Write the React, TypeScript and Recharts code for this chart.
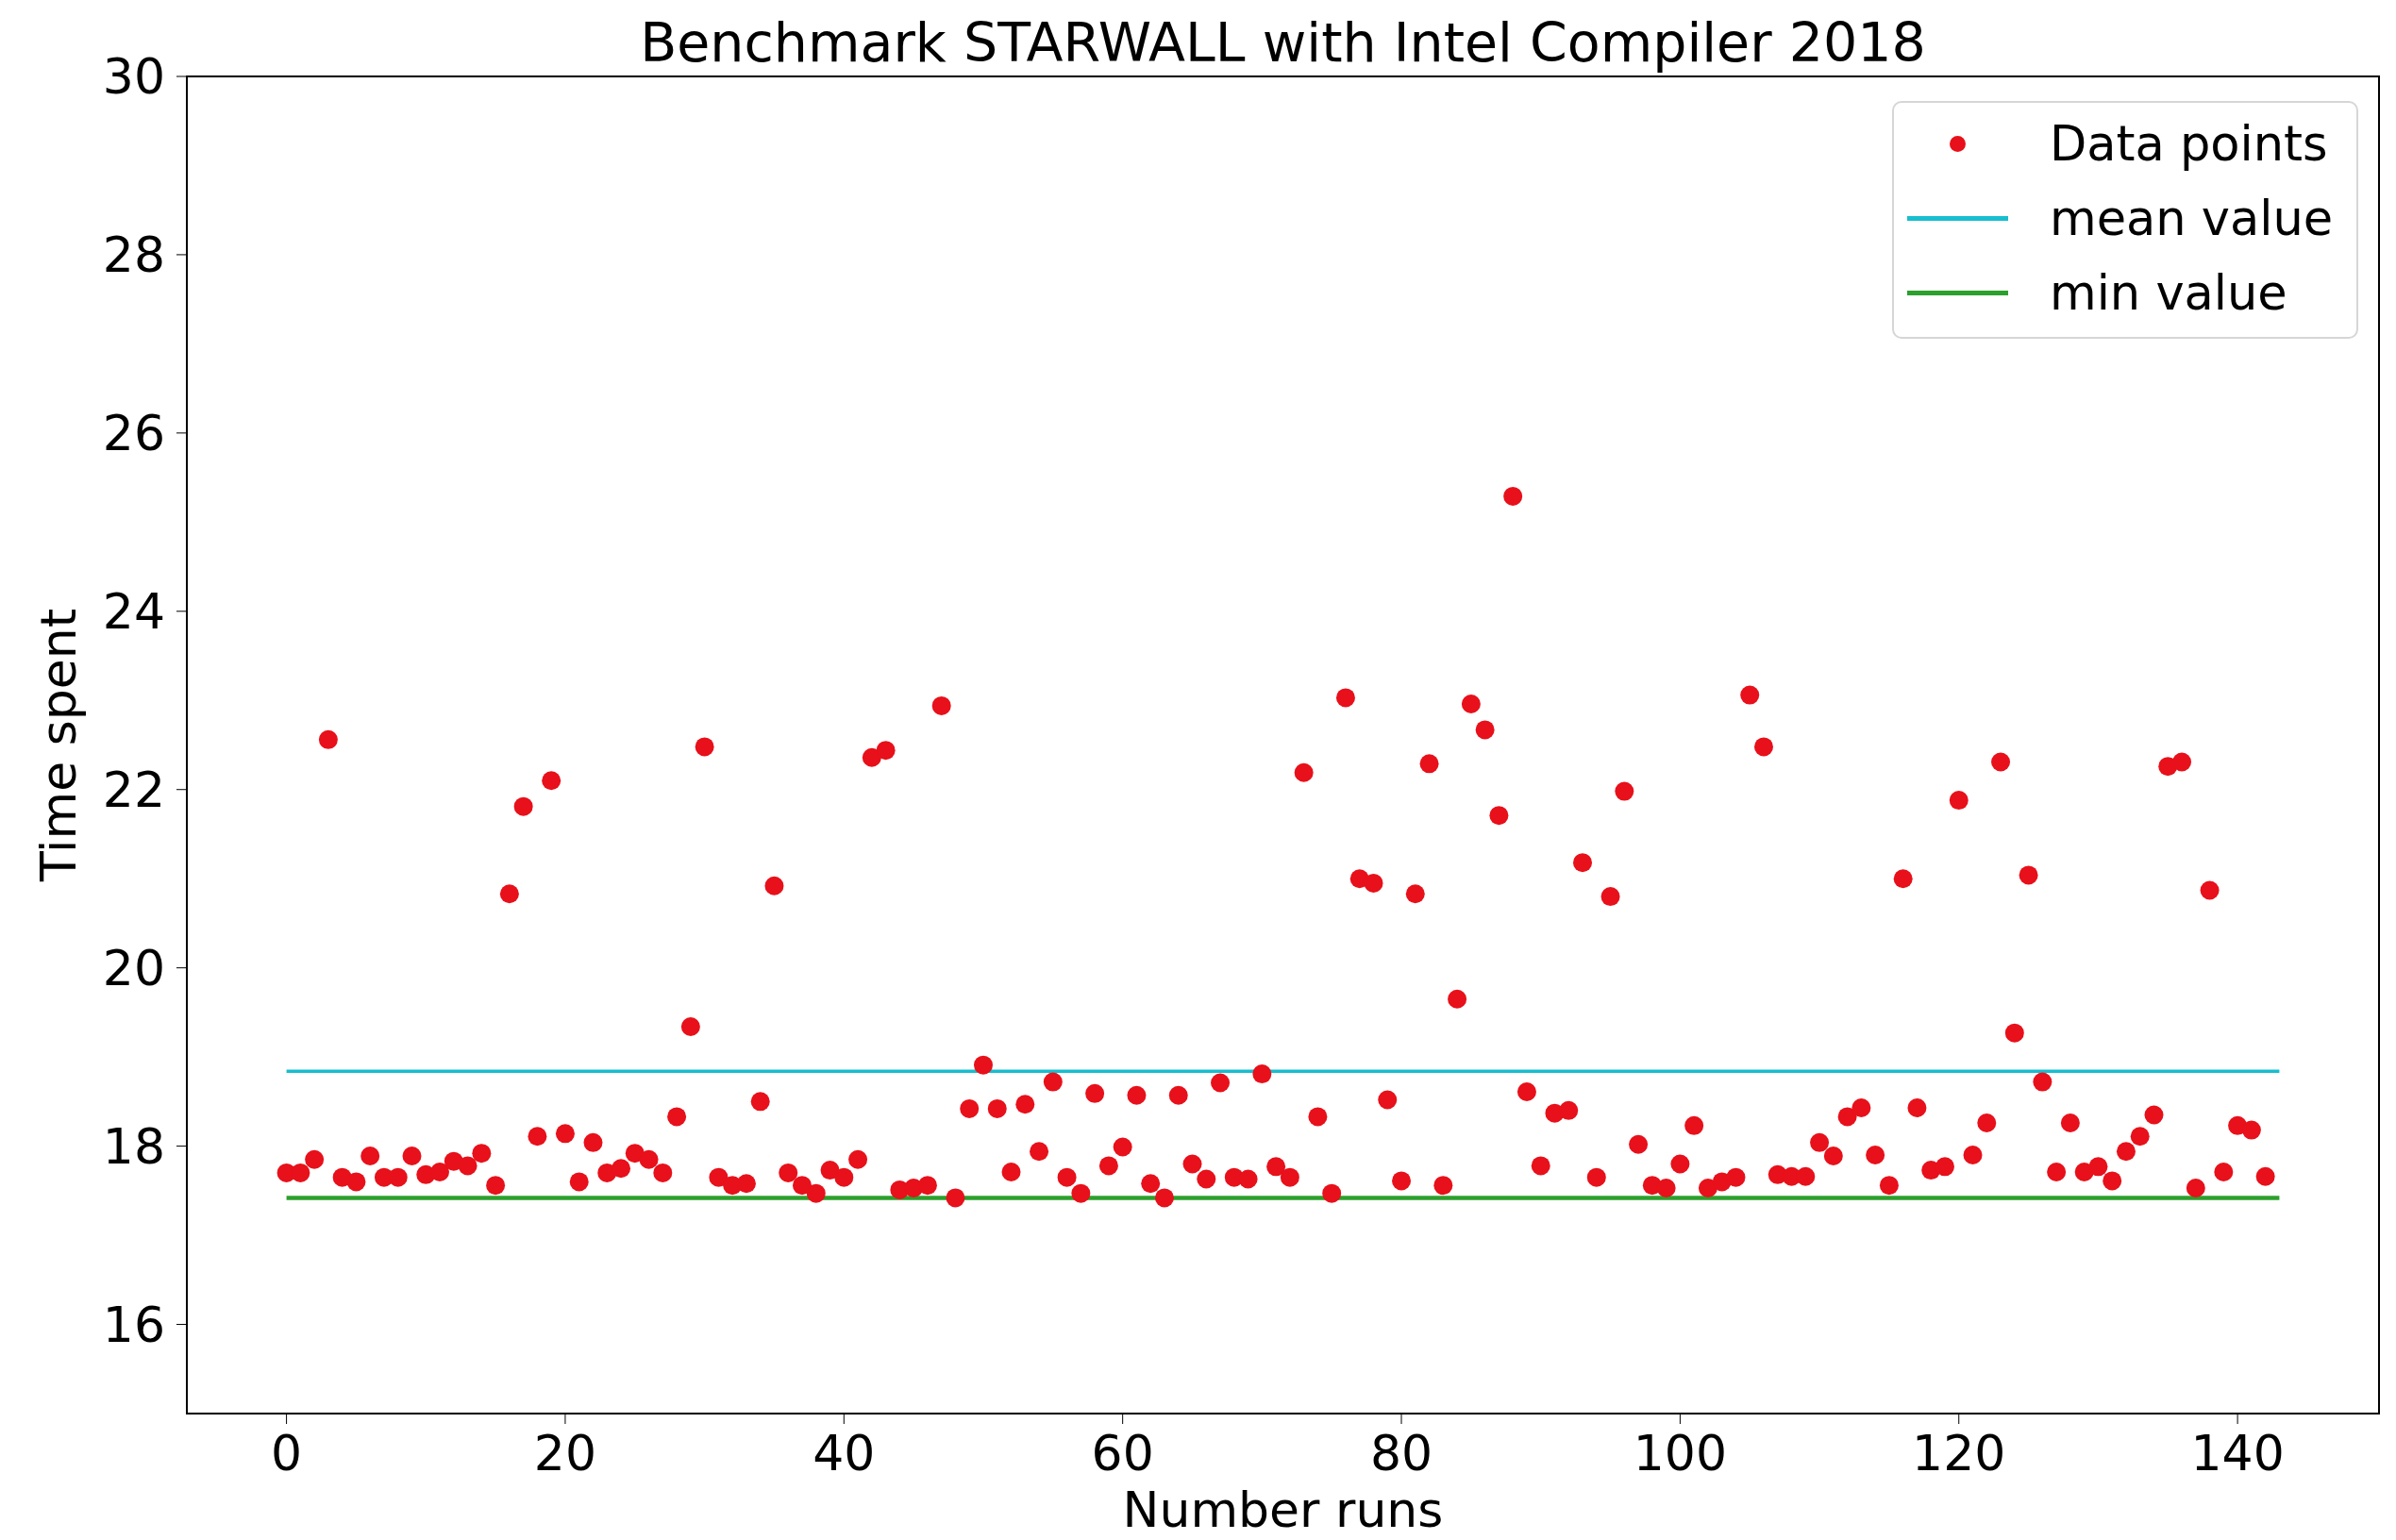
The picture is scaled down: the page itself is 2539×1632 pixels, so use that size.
import React from 'react';
import {
  ScatterChart,
  Scatter,
  XAxis,
  YAxis,
  ReferenceLine,
  ReferenceArea,
} from 'recharts';

// time spent per run (run index = position)
const times = [
  17.7, 17.7, 17.85, 22.56, 17.65, 17.6, 17.89, 17.65, 17.65, 17.89,
  17.68, 17.71, 17.83, 17.78, 17.92, 17.56, 20.83, 21.81, 18.11, 22.1,
  18.14, 17.6, 18.04, 17.7, 17.75, 17.92, 17.85, 17.7, 18.33, 19.34,
  22.48, 17.65, 17.56, 17.58, 18.5, 20.92, 17.7, 17.56, 17.47, 17.73,
  17.65, 17.85, 22.36, 22.44, 17.51, 17.53, 17.56, 22.94, 17.42, 18.42,
  18.91, 18.42, 17.71, 18.47, 17.94, 18.72, 17.65, 17.47, 18.59, 17.78,
  17.99, 18.57, 17.58, 17.42, 18.57, 17.8, 17.63, 18.71, 17.65, 17.63,
  18.81, 17.77, 17.65, 22.19, 18.33, 17.47, 23.03, 21.0, 20.95, 18.52,
  17.61, 20.83, 22.29, 17.56, 19.65, 22.96, 22.67, 21.71, 25.29, 18.61,
  17.78, 18.37, 18.4, 21.18, 17.65, 20.8, 21.98, 18.02, 17.56, 17.53,
  17.8, 18.23, 17.53, 17.6, 17.65, 23.06, 22.48, 17.68, 17.66, 17.66,
  18.04, 17.89, 18.33, 18.43, 17.9, 17.56, 21.0, 18.43, 17.73, 17.77,
  21.88, 17.9, 18.26, 22.31, 19.27, 21.04, 18.72, 17.71, 18.26, 17.71,
  17.77, 17.61, 17.94, 18.11, 18.35, 22.26, 22.31, 17.53, 20.87, 17.71,
  18.23, 18.18, 17.66,
];

const MEAN_TIME = 18.84;
const MIN_TIME = 17.42;
const LINE_END = 143;

const xTicks = [0, 20, 40, 60, 80, 100, 120, 140];
const yTicks = [16, 18, 20, 22, 24, 26, 28, 30];

const RED = '#e8101a';
const CYAN = '#17becf';
const GREEN = '#2ca02c';
const FONT = '"DejaVu Sans", sans-serif';
const FS = 52;

const points = times.map((t, i) => ({ run: i, time: t }));

const Dot = (props: any) => (
  <circle cx={props.cx} cy={props.cy} r={10} fill={RED} />
);

const tickStyle = { fill: '#000', fontSize: FS, fontFamily: FONT };

const App: React.FC = () => {
  return (
    <div style={{ position: 'relative', width: 2539, height: 1632, background: '#fff' }}>
      <style>{'body{margin:0;}'}</style>
      <ScatterChart
        width={2539}
        height={1632}
        margin={{ top: 81, right: 18, bottom: 0, left: 0 }}
      >
        <XAxis
          type="number"
          dataKey="run"
          domain={[-7.15, 150.15]}
          ticks={xTicks}
          allowDataOverflow
          height={134}
          tickSize={11}
          tickMargin={12}
          stroke="#000"
          tick={tickStyle}
          label={{
            value: 'Number runs',
            position: 'insideBottom',
            offset: 14,
            fill: '#000',
            fontSize: FS,
            fontFamily: FONT,
          }}
        />
        <YAxis
          type="number"
          dataKey="time"
          domain={[15, 30]}
          ticks={yTicks}
          allowDataOverflow
          width={198}
          tickSize={11}
          tickMargin={12}
          stroke="#000"
          tick={tickStyle}
          label={{
            value: 'Time spent',
            angle: -90,
            position: 'insideLeft',
            offset: 62,
            fill: '#000',
            fontSize: FS,
            fontFamily: FONT,
            style: { textAnchor: 'middle' },
          }}
        />
        <ReferenceArea
          x1={-7.15}
          x2={150.15}
          y1={15}
          y2={30}
          fill="none"
          stroke="#000"
          strokeWidth={2}
          label={{
            value: 'Benchmark STARWALL with Intel Compiler 2018',
            position: 'top',
            offset: 16,
            fill: '#000',
            fontSize: 57,
            fontFamily: FONT,
          }}
        />
        <Scatter data={points} shape={<Dot />} isAnimationActive={false} />
        <ReferenceLine
          segment={[{ x: 0, y: MEAN_TIME }, { x: LINE_END, y: MEAN_TIME }]}
          stroke={CYAN}
          strokeWidth={3.5}
        />
        <ReferenceLine
          segment={[{ x: 0, y: MIN_TIME }, { x: LINE_END, y: MIN_TIME }]}
          stroke={GREEN}
          strokeWidth={4.5}
        />
      </ScatterChart>

      <div
        style={{
          position: 'absolute',
          left: 2005,
          top: 107,
          width: 494,
          height: 252,
          boxSizing: 'border-box',
          border: '2px solid #d6d6d6',
          borderRadius: 10,
          background: 'rgba(255,255,255,0.8)',
          padding: '4px 0',
          fontFamily: FONT,
          fontSize: 51,
          color: '#000',
        }}
      >
        {[
          { name: 'Data points', kind: 'dot', color: RED },
          { name: 'mean value', kind: 'line', color: CYAN },
          { name: 'min value', kind: 'line', color: GREEN },
        ].map((item) => (
          <div key={item.name} style={{ display: 'flex', alignItems: 'center', height: 79 }}>
            <div style={{ width: 107, marginLeft: 14, display: 'flex', justifyContent: 'center' }}>
              {item.kind === 'dot' ? (
                <div style={{ width: 17, height: 17, borderRadius: '50%', background: item.color }} />
              ) : (
                <div style={{ width: 107, height: 4.5, background: item.color }} />
              )}
            </div>
            <span style={{ marginLeft: 44, lineHeight: 1 }}>{item.name}</span>
          </div>
        ))}
      </div>
    </div>
  );
};

export default App;
